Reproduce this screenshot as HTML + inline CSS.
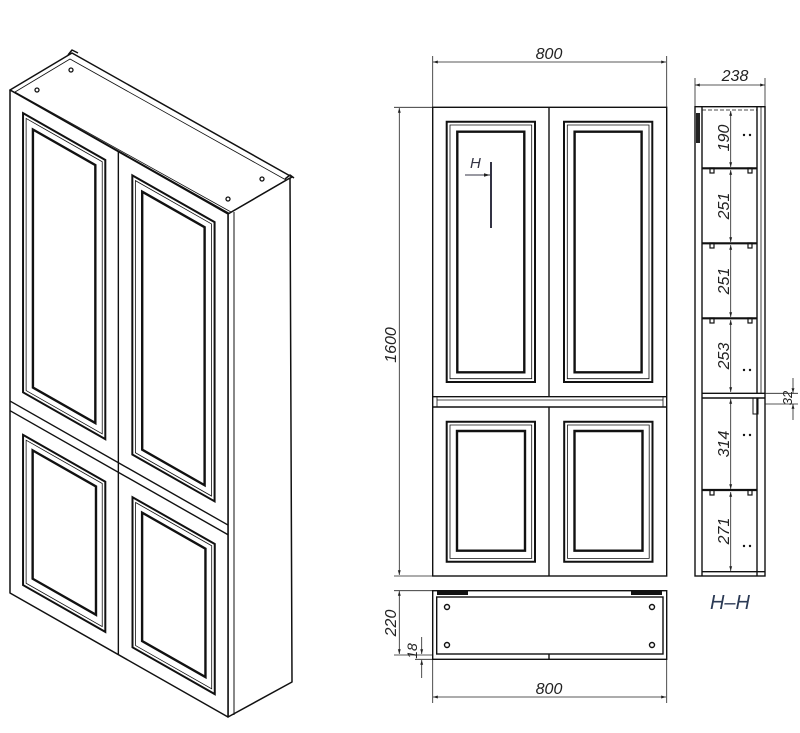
<!DOCTYPE html>
<html><head><meta charset="utf-8"><style>
html,body{margin:0;padding:0;background:#fff;}
svg{display:block;}
text{font-family:"Liberation Sans",sans-serif;font-style:italic;fill:#222;}
</style></head><body>
<svg width="800" height="733" viewBox="0 0 800 733" xmlns="http://www.w3.org/2000/svg">
<defs>
<marker id="ar" viewBox="0 0 10 10" refX="10" refY="5" markerWidth="8" markerHeight="6" orient="auto-start-reverse"><path d="M0,2 L10,5 L0,8 z" fill="#222"/></marker>
<g id="panels" fill="none" stroke="#111" vector-effect="non-scaling-stroke">
 <g id="pu">
  <rect x="446.7" y="121.7" width="88.3" height="260.3" stroke-width="2" vector-effect="non-scaling-stroke"/>
  <rect x="450" y="125" width="81.7" height="253.7" stroke-width="0.8" vector-effect="non-scaling-stroke"/>
  <rect x="457.3" y="131.7" width="67" height="240.6" stroke-width="2.4" vector-effect="non-scaling-stroke"/>
 </g>
 <use href="#pu" x="117.3"/>
 <g id="pl">
  <rect x="446.7" y="421.7" width="88.3" height="140" stroke-width="2" vector-effect="non-scaling-stroke"/>
  <rect x="450" y="425" width="81.7" height="133.4" stroke-width="0.8" vector-effect="non-scaling-stroke"/>
  <rect x="457" y="431" width="68" height="119.7" stroke-width="2.4" vector-effect="non-scaling-stroke"/>
 </g>
 <use href="#pl" x="117.5"/>
</g>
</defs>

<!-- ISOMETRIC -->
<g stroke="#111" fill="#fff" stroke-width="1.5" stroke-linejoin="round">
 <polygon points="10,90 72,53 292,177 230,214"/>
 <polygon points="15,92 70,59 286,180 231,212" fill="none" stroke-width="0.8"/>
 <polygon points="228,214 290,178 292,682 228,717"/>
 <line x1="234" y1="212" x2="234" y2="715" stroke-width="1"/>
 <polygon points="10,90 228,214 228,717 10,593"/>
 <polyline points="68,55 72,50 78,53" fill="none"/>
 <polyline points="285,179 290,175 294,178" fill="none"/>
 <g fill="none" stroke-width="1.3">
 <circle cx="37" cy="90" r="2"/><circle cx="71" cy="70" r="2"/>
 <circle cx="228" cy="199" r="2"/><circle cx="262" cy="179" r="2"/>
 </g>
</g>
<g transform="matrix(0.9316,0.53,0,1.0725,-393.1,-254.1)" fill="none" stroke="#111">
 <line x1="549" y1="107" x2="549" y2="576" stroke-width="1.4" vector-effect="non-scaling-stroke"/>
 <line x1="433" y1="397" x2="667" y2="397" stroke-width="1.4" vector-effect="non-scaling-stroke"/>
 <line x1="433" y1="406" x2="667" y2="406" stroke-width="1.4" vector-effect="non-scaling-stroke"/>
 <use href="#panels"/>
</g>

<!-- FRONT ELEVATION -->
<g fill="none" stroke="#111" stroke-width="1.4">
 <rect x="432.7" y="107.3" width="234" height="468.7"/>
 <line x1="549" y1="107.3" x2="549" y2="396.7"/>
 <line x1="549" y1="407" x2="549" y2="576"/>
 <line x1="432.7" y1="396.7" x2="666.7" y2="396.7"/>
 <line x1="432.7" y1="407" x2="666.7" y2="407"/>
 <line x1="437" y1="400" x2="663" y2="400" stroke-width="0.8"/>
 <line x1="437" y1="396.7" x2="437" y2="407" stroke-width="0.8"/>
 <line x1="663" y1="396.7" x2="663" y2="407" stroke-width="0.8"/>
</g>
<use href="#panels"/>
<line x1="491" y1="162" x2="491" y2="228" stroke="#334" stroke-width="2"/>
<line x1="465" y1="175" x2="490" y2="175" stroke="#334" stroke-width="1" marker-end="url(#ar)"/>
<text x="470" y="168" font-size="15" style="fill:#334">H</text>

<!-- plinth -->
<g fill="none" stroke="#111" stroke-width="1.4">
 <rect x="432.7" y="590.7" width="234" height="68.6"/>
 <rect x="436.7" y="597" width="226.3" height="57"/>
 <line x1="549" y1="654" x2="549" y2="659.3"/>
 <circle cx="447" cy="607" r="2.5"/><circle cx="652" cy="607" r="2.5"/>
 <circle cx="447" cy="645" r="2.5"/><circle cx="652" cy="645" r="2.5"/>
</g>
<rect x="437" y="591" width="31" height="4" fill="#111"/>
<rect x="631" y="591" width="31" height="4" fill="#111"/>

<!-- dimensions -->
<g stroke="#222" stroke-width="0.8" fill="none">
 <line x1="432.7" y1="56" x2="432.7" y2="107"/><line x1="666.7" y1="56" x2="666.7" y2="107"/>
 <line x1="433" y1="62" x2="666" y2="62" marker-start="url(#ar)" marker-end="url(#ar)"/>
 <line x1="432.7" y1="660" x2="432.7" y2="703"/><line x1="666.7" y1="660" x2="666.7" y2="703"/>
 <line x1="433" y1="697" x2="666" y2="697" marker-start="url(#ar)" marker-end="url(#ar)"/>
 <line x1="394" y1="107.3" x2="432" y2="107.3"/><line x1="394" y1="576" x2="432" y2="576"/>
 <line x1="399.3" y1="108" x2="399.3" y2="575" marker-start="url(#ar)" marker-end="url(#ar)"/>
 <line x1="394" y1="590.7" x2="432" y2="590.7"/><line x1="394" y1="655" x2="432" y2="655"/><line x1="415" y1="659.3" x2="432" y2="659.3"/>
 <line x1="399.3" y1="591" x2="399.3" y2="654" marker-start="url(#ar)" marker-end="url(#ar)"/>
 <line x1="421.7" y1="637" x2="421.7" y2="654" marker-end="url(#ar)"/>
 <line x1="421.7" y1="678" x2="421.7" y2="660" marker-end="url(#ar)"/>
 <line x1="695" y1="78" x2="695" y2="106"/><line x1="765" y1="78" x2="765" y2="106"/>
 <line x1="695" y1="85" x2="765" y2="85" marker-start="url(#ar)" marker-end="url(#ar)"/>
</g>
<text x="549" y="59" font-size="16" text-anchor="middle">800</text>
<text x="549" y="694" font-size="16" text-anchor="middle">800</text>
<text x="735" y="81" font-size="16" text-anchor="middle">238</text>
<text transform="translate(396,345) rotate(-90)" font-size="16" text-anchor="middle">1600</text>
<text transform="translate(396,623) rotate(-90)" font-size="16" text-anchor="middle">220</text>
<text transform="translate(417,651) rotate(-90)" font-size="14" text-anchor="middle">18</text>

<!-- SECTION H-H -->
<g fill="none" stroke="#111" stroke-width="1.4">
 <rect x="695" y="106.7" width="70" height="469.3"/>
 <line x1="702" y1="106.7" x2="702" y2="576"/>
 <line x1="757" y1="106.7" x2="757" y2="393"/>
 <line x1="761" y1="106.7" x2="761" y2="393" stroke-width="0.8"/>
 <line x1="702" y1="110" x2="757" y2="110" stroke-width="0.8" stroke-dasharray="4 2"/>
 <line x1="702" y1="571.7" x2="765" y2="571.7"/>
 <line x1="702" y1="393.3" x2="765" y2="393.3"/>
 <line x1="702" y1="398" x2="765" y2="398"/>
 <line x1="757" y1="398" x2="757" y2="576"/>
 <rect x="753" y="398" width="5" height="16" stroke-width="1"/>
</g>
<rect x="696" y="113" width="4" height="30" fill="#222"/>
<g stroke="#111" stroke-width="2.2">
 <line x1="702" y1="168.3" x2="757" y2="168.3"/>
 <line x1="702" y1="243.3" x2="757" y2="243.3"/>
 <line x1="702" y1="318.3" x2="757" y2="318.3"/>
 <line x1="702" y1="490" x2="757" y2="490"/>
</g>
<g fill="none" stroke="#111" stroke-width="1.2">
 <rect x="710" y="168" width="4" height="5"/><rect x="748" y="168" width="4" height="5"/>
 <rect x="710" y="243" width="4" height="5"/><rect x="748" y="243" width="4" height="5"/>
 <rect x="710" y="318" width="4" height="5"/><rect x="748" y="318" width="4" height="5"/>
 <rect x="710" y="490" width="4" height="5"/><rect x="748" y="490" width="4" height="5"/>
</g>
<g stroke="#222" stroke-width="0.8">
 <line x1="730.7" y1="111" x2="730.7" y2="167" marker-start="url(#ar)" marker-end="url(#ar)"/>
 <line x1="730.7" y1="170" x2="730.7" y2="242" marker-start="url(#ar)" marker-end="url(#ar)"/>
 <line x1="730.7" y1="245" x2="730.7" y2="317" marker-start="url(#ar)" marker-end="url(#ar)"/>
 <line x1="730.7" y1="320" x2="730.7" y2="392" marker-start="url(#ar)" marker-end="url(#ar)"/>
 <line x1="730.7" y1="399" x2="730.7" y2="489" marker-start="url(#ar)" marker-end="url(#ar)"/>
 <line x1="730.7" y1="492" x2="730.7" y2="571" marker-start="url(#ar)" marker-end="url(#ar)"/>
 <line x1="765" y1="393.3" x2="798" y2="393.3"/><line x1="765" y1="404" x2="798" y2="404"/>
 <line x1="793" y1="378" x2="793" y2="393" marker-end="url(#ar)"/>
 <line x1="793" y1="420" x2="793" y2="404" marker-end="url(#ar)"/>
</g>
<g font-size="16" text-anchor="middle">
 <text transform="translate(729,138) rotate(-90)">190</text>
 <text transform="translate(729,206) rotate(-90)">251</text>
 <text transform="translate(729,281) rotate(-90)">251</text>
 <text transform="translate(729,356) rotate(-90)">253</text>
 <text transform="translate(729,444) rotate(-90)">314</text>
 <text transform="translate(729,531) rotate(-90)">271</text>
 <text transform="translate(792,398) rotate(-90)" font-size="13">32</text>
</g>
<g fill="#111">
 <circle cx="744" cy="135" r="1.2"/><circle cx="750" cy="135" r="1.2"/>
 <circle cx="744" cy="370" r="1.2"/><circle cx="750" cy="370" r="1.2"/>
 <circle cx="744" cy="435" r="1.2"/><circle cx="750" cy="435" r="1.2"/>
 <circle cx="744" cy="546" r="1.2"/><circle cx="750" cy="546" r="1.2"/>
</g>
<text x="730" y="609" font-size="20" text-anchor="middle" style="fill:#2b3a55">H–H</text>
</svg>
</body></html>
